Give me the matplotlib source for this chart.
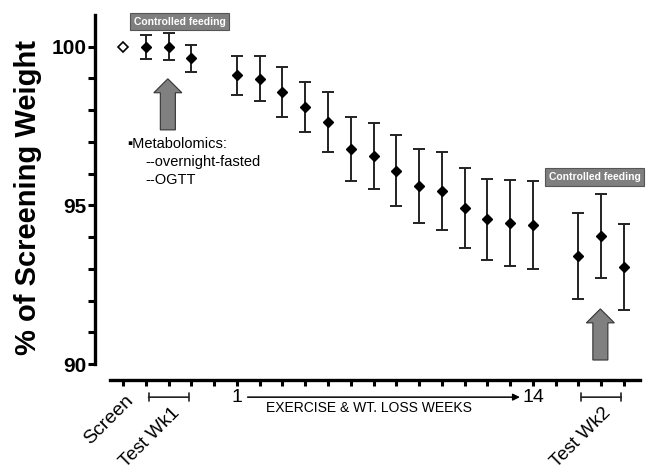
import matplotlib.pyplot as plt

plt.rcParams["font.family"] = ["Liberation Sans", "DejaVu Sans"]

# positions along the x axis (one slot per visit)
screen_pos = [0]
test1_pos = [1, 2, 3]
week_pos = list(range(5, 19))  # weeks 1..14
test2_pos = [20, 21, 22]

# % of screening weight (mean) and error
screen_val = [100.0]
test1_val = [100.0, 100.0, 99.64]
test1_err = [0.38, 0.43, 0.43]
week_val = [99.10, 98.99, 98.58, 98.11, 97.63, 96.78, 96.56,
            96.09, 95.62, 95.46, 94.93, 94.56, 94.45, 94.39]
week_err = [0.61, 0.71, 0.78, 0.79, 0.95, 1.00, 1.03,
            1.12, 1.17, 1.23, 1.26, 1.28, 1.35, 1.39]
test2_val = [93.41, 94.04, 93.06]
test2_err = [1.35, 1.33, 1.35]

fig = plt.figure(figsize=(6.46, 4.73), dpi=100)
ax = fig.add_axes([0.147, 0.1966, 0.8437, 0.7717])

ax.plot(screen_pos, screen_val, marker="D", ms=5.5, mfc="white", mec="black",
        mew=1.2, ls="none")
for pos, val, err in [(test1_pos, test1_val, test1_err),
                      (week_pos, week_val, week_err),
                      (test2_pos, test2_val, test2_err)]:
    ax.errorbar(pos, val, yerr=err, fmt="D", ms=5.5, color="black",
                ecolor="#222222", elinewidth=1.4, capsize=4, capthick=1.4)

ax.set_xlim(-1.23, 22.7)
ax.set_ylim(89.5, 101.0)
ax.spines["top"].set_visible(False)
ax.spines["right"].set_visible(False)
ax.spines["left"].set_bounds(90, 101)
ax.spines["bottom"].set_bounds(-0.57, 22.7)
ax.spines["left"].set_linewidth(2.4)
ax.spines["bottom"].set_linewidth(2.4)

ax.set_yticks([90, 95, 100])
ax.set_yticks(range(90, 101), minor=True)
ax.set_yticklabels(["90", "95", "100"], fontsize=15, fontweight="bold")
ax.tick_params(axis="y", which="both", length=5, width=2.2, pad=1)
ax.set_xticks(range(0, 23))
ax.set_xticklabels([])
ax.tick_params(axis="x", length=4, width=2.2)
ax.set_ylabel("% of Screening Weight", fontsize=21, fontweight="bold")
ax.yaxis.set_label_coords(-0.097, 0.5)

# rotated visit labels
ax.text(0.09, 89.12, "Screen", rotation=45, ha="right", va="top",
        rotation_mode="anchor", fontsize=14, clip_on=False)
ax.text(2.1, 88.74, "Test Wk1", rotation=45, ha="right", va="top",
        rotation_mode="anchor", fontsize=13.5, clip_on=False)
ax.text(21.05, 88.74, "Test Wk2", rotation=45, ha="right", va="top",
        rotation_mode="anchor", fontsize=13.5, clip_on=False)

# brackets under the test weeks
for a, b in [(1, 3), (20, 22)]:
    ax.annotate("", xy=(a, 88.96), xytext=(b, 88.96),
                arrowprops=dict(arrowstyle="|-|", lw=1.2, color="#222222",
                                mutation_scale=3),
                annotation_clip=False)

# exercise weeks arrow
ax.text(5, 88.96, "1", ha="center", va="center", fontsize=14, clip_on=False)
ax.text(18, 88.96, "14", ha="center", va="center", fontsize=14, clip_on=False)
ax.annotate("", xy=(17.55, 88.96), xytext=(5.35, 88.96),
            arrowprops=dict(arrowstyle="-|>", lw=1.1, color="black",
                            mutation_scale=10),
            annotation_clip=False)
ax.text(10.8, 88.62, "EXERCISE & WT. LOSS WEEKS", ha="center", va="center",
        fontsize=10, clip_on=False)

# controlled feeding boxes
box = dict(boxstyle="square,pad=0.35", fc="#7f7f7f", ec="#555555", lw=0.8)
ax.text(2.5, 100.79, "Controlled feeding", ha="center", va="center",
        fontsize=7.5, fontweight="bold", color="white", bbox=box)
ax.text(20.7, 95.9, "Controlled feeding", ha="center", va="center",
        fontsize=7.5, fontweight="bold", color="white", bbox=box)

# up arrows
for x, y0, y1 in [(1.97, 97.38, 98.99), (20.96, 90.13, 91.74)]:
    ax.arrow(x, y0, 0, y1 - y0, width=0.66, head_width=1.23,
             head_length=0.44, length_includes_head=True,
             fc="#808080", ec="#333333", lw=0.8)

# metabolomics note
ax.text(0.2, 96.94, "\u25aaMetabolomics:", ha="left", va="center", fontsize=10.5)
ax.text(1.0, 96.36, "--overnight-fasted", ha="left", va="center", fontsize=10.5)
ax.text(1.0, 95.8, "--OGTT", ha="left", va="center", fontsize=10.5)

fig.savefig("out.png", dpi=100)
